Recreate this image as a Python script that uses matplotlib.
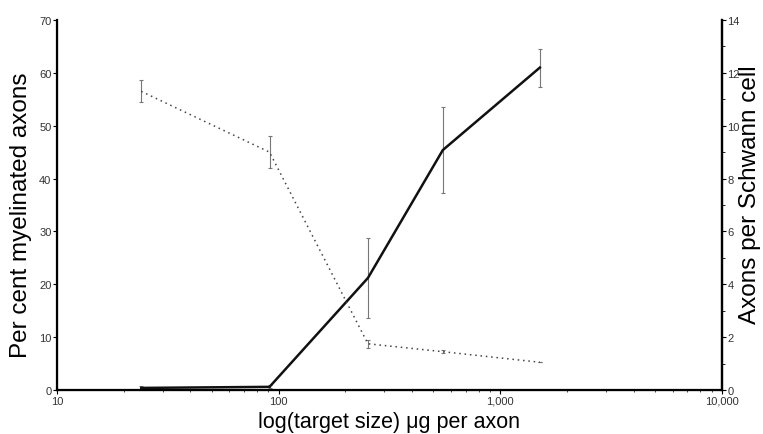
import numpy as np
import matplotlib.pyplot as plt
from matplotlib.ticker import FixedLocator, FixedFormatter, NullFormatter

plt.rcParams['font.family'] = ['Liberation Sans', 'DejaVu Sans']

# target size (ug per axon)
target_size = [24, 91, 253, 551, 1510]

# per cent myelinated axons (left axis)
myelinated = [0.4, 0.6, 21.2, 45.4, 61.0]
myelinated_err = [0.3, 0.3, 7.5, 8.2, 3.6]

# axons per Schwann cell (right axis)
axons_per_cell = [11.3, 9.0, 1.75, 1.45, 1.05]
axons_per_cell_err = [0.42, 0.6, 0.15, 0.06, 0.0]

x_ticks = [10, 100, 1000, 10000]
x_labels = ['10', '100', '1,000', '10,000']

fig = plt.figure(figsize=(7.63, 4.35), dpi=100)
ax1 = fig.add_axes([0.0747, 0.1011, 0.8713, 0.8506])

ax1.errorbar(target_size, myelinated, yerr=myelinated_err, color='#111111',
             lw=1.8, ecolor='#777777', elinewidth=0.8, capsize=1.5, capthick=0.8)
ax1.set_xscale('log')
ax1.set_xlim(10, 10000)
ax1.set_ylim(0, 70)
ax1.set_yticks(np.arange(0, 71, 10))
ax1.xaxis.set_major_locator(FixedLocator(x_ticks))
ax1.xaxis.set_major_formatter(FixedFormatter(x_labels))
ax1.xaxis.set_minor_formatter(NullFormatter())
ax1.set_xlabel('log(target size) \u03bcg per axon', fontsize=15.5, labelpad=4)
ax1.set_ylabel('Per cent myelinated axons', fontsize=17.5)
ax1.yaxis.label.set_va('center')
ax1.yaxis.set_label_coords(-0.054, 0.476)
ax1.tick_params(axis='both', labelsize=8, length=3, width=0.8, direction='out', pad=1,
                labelcolor='#333333')
ax1.tick_params(axis='x', which='minor', length=1.5, width=0.5)
ax1.spines['top'].set_visible(False)
for s in ['left', 'bottom', 'right']:
    ax1.spines[s].set_linewidth(1.6)

ax2 = ax1.twinx()
ax2.errorbar(target_size, axons_per_cell, yerr=axons_per_cell_err, color='#444444',
             lw=1.1, ls=(0, (1, 2.5)), ecolor='#777777', elinewidth=0.8,
             capsize=1.5, capthick=0.8)
ax2.set_ylim(0, 14)
ax2.set_yticks(np.arange(0, 15, 2))
ax2.set_yticks(np.arange(1, 14, 2), minor=True)
ax2.set_ylabel('Axons per Schwann cell', fontsize=17.5)
ax2.yaxis.label.set_va('center')
ax2.yaxis.set_label_coords(1.0425, 0.53)
ax2.tick_params(axis='y', labelsize=8, length=3, width=0.8, direction='out', pad=1,
                labelcolor='#333333')
ax2.tick_params(axis='y', which='minor', length=2, width=0.6)
ax2.spines['top'].set_visible(False)
ax2.spines['right'].set_linewidth(1.6)

fig.savefig('out.png', dpi=100)
